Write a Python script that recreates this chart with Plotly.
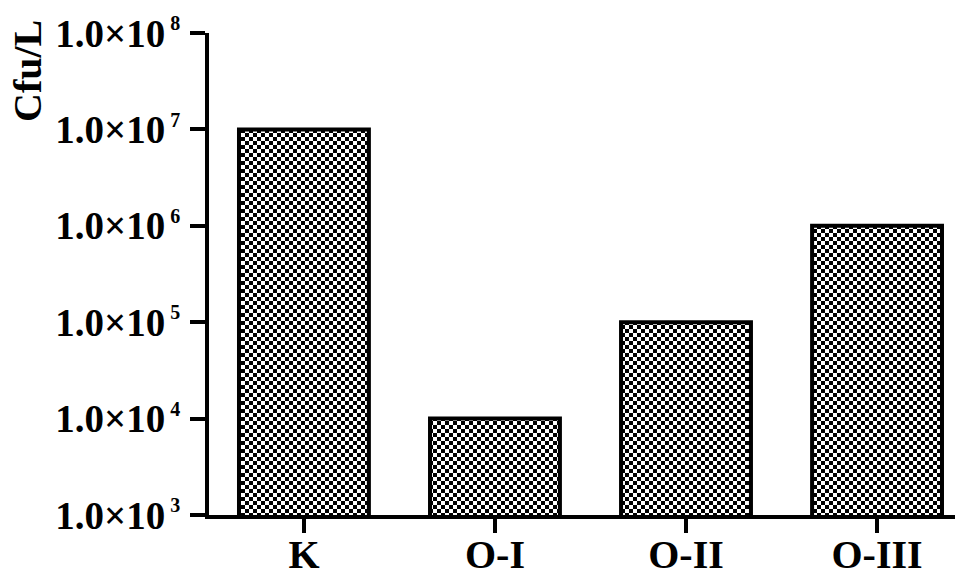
import plotly.graph_objects as go

categories = ["K", "O-I", "O-II", "O-III"]
values = [1.0e7, 1.0e4, 1.0e5, 1.0e6]
tick_vals = [1e3, 1e4, 1e5, 1e6, 1e7, 1e8]
tick_exponents = ["3", "4", "5", "6", "7", "8"]
y_title = "Cfu/L"

tick_text = ['1.0×10<sup><span style="font-size:20px"> %s</span></sup>' % e
             for e in tick_exponents]

FONT = "Liberation Serif"
# page body has an 8px margin: figure drawn 8px in from the window corner
W, H = 955, 562
L, R, T, B = 201, 0, 25, 55
pw = W - L - R
ph = H - T - B

fig = go.Figure()
fig.add_trace(go.Bar(
    x=categories, y=values, width=0.68,
    marker=dict(color="white",
                line=dict(color="black", width=4),
                pattern=dict(shape=".", fgcolor="black", bgcolor="white",
                             size=8, solidity=0.5, fillmode="replace")),
    showlegend=False,
))

fig.update_layout(
    width=W, height=H,
    margin=dict(l=L, r=R, t=T, b=B, autoexpand=False),
    plot_bgcolor="white", paper_bgcolor="white",
    font=dict(family=FONT, color="black"),
    xaxis=dict(
        type="category", range=[-0.497, 3.45],
        showline=True, linecolor="black", linewidth=4,
        ticks="outside", ticklen=14, tickwidth=4, tickcolor="black",
        tickfont=dict(family=FONT, size=40, weight="bold"),
        ticklabelstandoff=-13,
        showgrid=False, zeroline=False, fixedrange=True,
    ),
    yaxis=dict(
        type="log", range=[3, 8],
        tickmode="array", tickvals=tick_vals, ticktext=tick_text,
        showline=True, linecolor="black", linewidth=4,
        ticks="outside", ticklen=15, tickwidth=4, tickcolor="black",
        tickfont=dict(family=FONT, size=39, weight="bold"),
        ticklabelstandoff=2,
        showgrid=False, zeroline=False, fixedrange=True,
    ),
    annotations=[dict(
        text=y_title, textangle=-90, showarrow=False,
        xref="paper", yref="paper",
        x=(20 - L) / pw, y=1 - (63 - T) / ph,
        xanchor="center", yanchor="middle",
        font=dict(family=FONT, size=40, weight="bold", color="black"),
    )],
    shapes=[dict(
        type="line", xref="paper", yref="paper",
        x0=-17 / pw, x1=0, y0=0, y1=0,
        line=dict(color="black", width=4),
    )],
)

# turn the bar fill pattern into a 4px checkerboard, as in the reference
post = """
var gd = document.getElementById('{plot_id}');
var ns = 'http://www.w3.org/2000/svg';
gd.querySelectorAll('pattern').forEach(function(p){
  while (p.firstChild) p.removeChild(p.firstChild);
  p.setAttribute('width', '8'); p.setAttribute('height', '8');
  function r(x, y, w, h, c){
    var e = document.createElementNS(ns, 'rect');
    e.setAttribute('x', x); e.setAttribute('y', y);
    e.setAttribute('width', w); e.setAttribute('height', h);
    e.setAttribute('fill', c); e.setAttribute('shape-rendering', 'crispEdges');
    p.appendChild(e);
  }
  r(0, 0, 8, 8, '#ffffff'); r(0, 0, 4, 4, '#000000'); r(4, 4, 4, 4, '#000000');
});
"""

fig.write_html("out.html", post_script=post)
